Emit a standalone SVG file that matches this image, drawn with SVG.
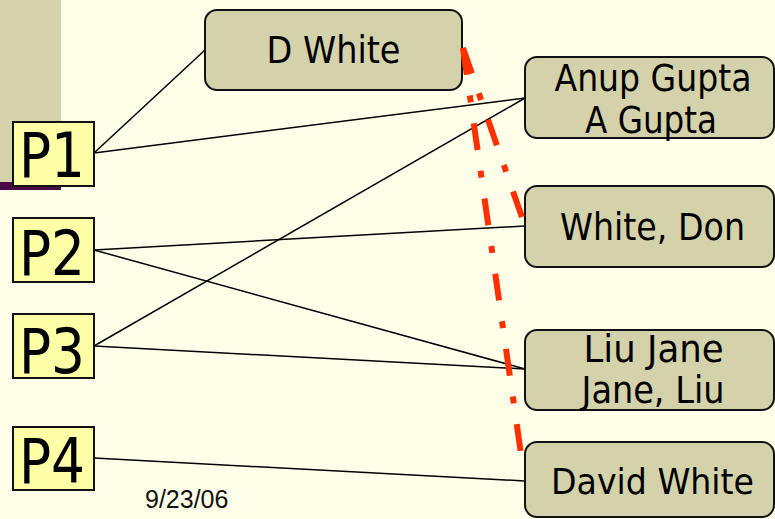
<svg xmlns="http://www.w3.org/2000/svg" width="775" height="519" viewBox="0 0 775 519">
<style>
.bg{fill:#FFFFE9}
.panel{fill:#D4D2AA}
.bar{fill:#4A0A48}
.pbox{fill:#FFFFA8;stroke:#111;stroke-width:2}
.node{fill:#D4D2AA;stroke:#111;stroke-width:2}
.ptxt{font-family:"DejaVu Sans",Verdana,sans-serif;font-size:63px;fill:#000}
.ntxt{font-family:"DejaVu Sans",Verdana,sans-serif;font-size:37px;fill:#000;text-anchor:middle}
.date{font-family:"Liberation Sans",Arial,sans-serif;font-size:25px;fill:#111}
.link{stroke:#000;stroke-width:1.5;fill:none}
.dup{stroke:#FF3000;stroke-width:6;fill:none;stroke-dasharray:27 21 7 21}
</style>
<rect class="bg" x="0" y="0" width="775" height="519"/>
<rect class="panel" x="0" y="0" width="61" height="190"/>
<rect class="bar" x="0" y="182" width="61" height="8"/>

<g id="connectors">
<line class="link" x1="94" y1="153" x2="205" y2="50"/>
<line class="link" x1="94" y1="153" x2="525" y2="98"/>
<line class="link" x1="94" y1="250" x2="525" y2="226"/>
<line class="link" x1="94" y1="250" x2="525" y2="369"/>
<line class="link" x1="94" y1="346" x2="525" y2="98"/>
<line class="link" x1="94" y1="346" x2="525" y2="369"/>
<line class="link" x1="94" y1="458" x2="525" y2="481"/>
</g>

<g id="P1"><rect class="pbox" x="13" y="122" width="81" height="64"/><text class="ptxt" x="19" y="177" textLength="66" lengthAdjust="spacingAndGlyphs">P1</text></g>
<g id="P2"><rect class="pbox" x="13" y="218" width="81" height="64"/><text class="ptxt" x="19" y="275" textLength="66" lengthAdjust="spacingAndGlyphs">P2</text></g>
<g id="P3"><rect class="pbox" x="13" y="314" width="81" height="64"/><text class="ptxt" x="19" y="373" textLength="66" lengthAdjust="spacingAndGlyphs">P3</text></g>
<g id="P4"><rect class="pbox" x="13" y="427" width="81" height="63"/><text class="ptxt" x="19" y="483" textLength="66" lengthAdjust="spacingAndGlyphs">P4</text></g>

<g id="DWhite"><rect class="node" x="205" y="10" width="257" height="80" rx="12"/><text class="ntxt" x="333.5" y="63" textLength="134" lengthAdjust="spacingAndGlyphs">D White</text></g>
<g id="AnupGupta"><rect class="node" x="525" y="57" width="249" height="81" rx="12"/><text class="ntxt" x="653" y="91" textLength="197" lengthAdjust="spacingAndGlyphs">Anup Gupta</text><text class="ntxt" x="651" y="133" textLength="132" lengthAdjust="spacingAndGlyphs">A Gupta</text></g>
<g id="WhiteDon"><rect class="node" x="525" y="186" width="249" height="81" rx="12"/><text class="ntxt" x="652.5" y="240" textLength="185" lengthAdjust="spacingAndGlyphs">White, Don</text></g>
<g id="LiuJane"><rect class="node" x="525" y="330" width="249" height="80" rx="12"/><text class="ntxt" x="653.5" y="362" textLength="140" lengthAdjust="spacingAndGlyphs">Liu Jane</text><text class="ntxt" x="653" y="403" textLength="143" lengthAdjust="spacingAndGlyphs">Jane, Liu</text></g>
<g id="DavidWhite"><rect class="node" x="525" y="442" width="249" height="75" rx="12"/><text class="ntxt" x="652.5" y="494" style="font-size:36px" textLength="203" lengthAdjust="spacingAndGlyphs">David White</text></g>

<g id="duplicates">
<line class="dup" x1="463" y1="48" x2="524" y2="223"/>
<line class="dup" x1="463" y1="48" x2="522" y2="461"/>
</g>

<text class="date" x="145" y="508">9/23/06</text>
</svg>
